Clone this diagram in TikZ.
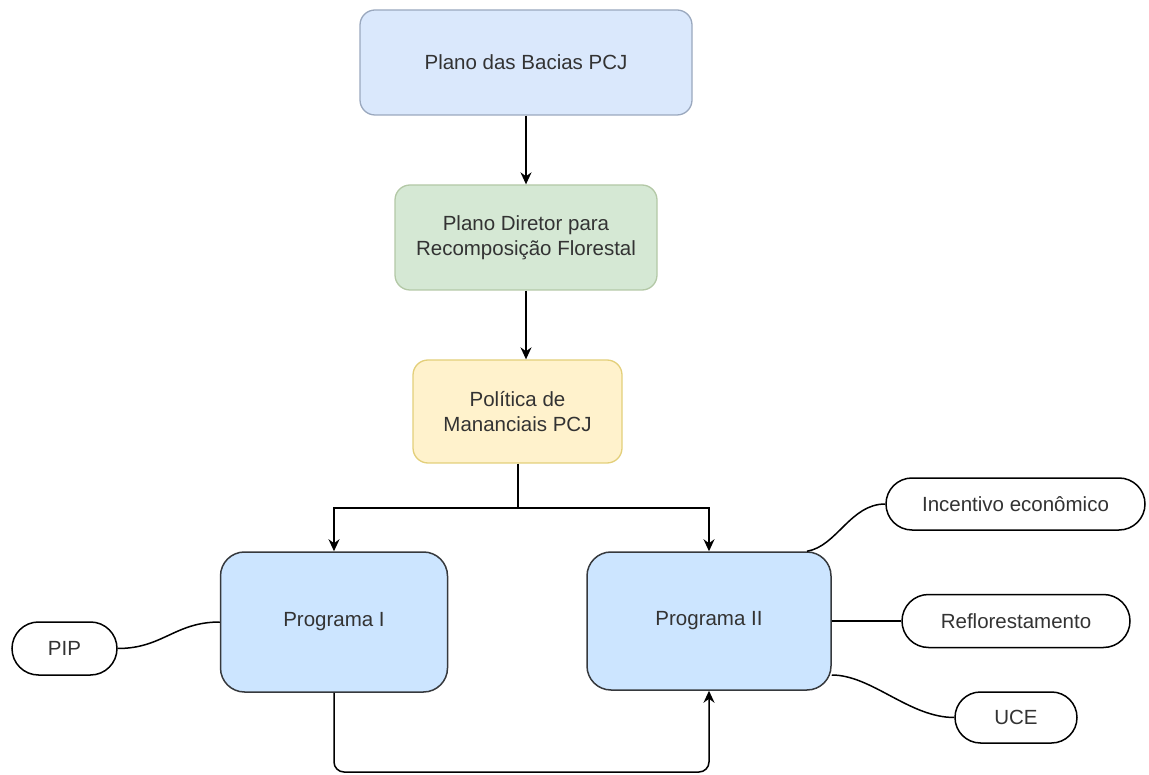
\documentclass[tikz,border=0pt]{standalone}
\usepackage{fontspec}
\setmainfont{Liberation Sans}
\usetikzlibrary{arrows.meta,shapes.misc}
\definecolor{topfill}{HTML}{DAE8FC}
\definecolor{topdraw}{HTML}{9AA8BE}
\definecolor{grnfill}{HTML}{D5E8D4}
\definecolor{grndraw}{HTML}{B3C8A6}
\definecolor{yelfill}{HTML}{FFF2CC}
\definecolor{yeldraw}{HTML}{E3CF7A}
\definecolor{progfill}{HTML}{CCE5FF}
\definecolor{progdraw}{HTML}{36393D}
\definecolor{txt}{HTML}{333333}
\tikzset{
  base/.style={inner sep=0pt, align=center, text=txt, font=\fontsize{20.5}{25}\selectfont},
  pale/.style={base, rectangle, rounded corners=15pt, line width=1.3pt},
  prog/.style={base, rectangle, rounded corners=24pt, fill=progfill, draw=progdraw, line width=1.5pt},
  pill/.style={base, rounded rectangle, fill=white, draw=black, line width=1.5pt},
  arr/.style={line width=1.5pt, -{Stealth[length=12pt,width=11pt]}},
  link/.style={line width=1.5pt}
}
\begin{document}
\begin{tikzpicture}[x=1pt,y=-1pt]
\useasboundingbox (0,0) rectangle (1149,775);
\node[pale, fill=topfill, draw=topdraw, minimum width=332pt, minimum height=105pt] (top) at (526,62.5) {Plano das Bacias PCJ};
\node[pale, fill=grnfill, draw=grndraw, minimum width=262pt, minimum height=105pt] (grn) at (526,237.5) {Plano Diretor para\\Recomposição Florestal};
\node[pale, fill=yelfill, draw=yeldraw, minimum width=209pt, minimum height=103pt] (yel) at (517.5,411.5) {Política de\\Mananciais PCJ};
\node[prog, minimum width=227pt, minimum height=140pt] (p1) at (334,622) {Programa I};
\node[prog, minimum width=244pt, minimum height=138pt] (p2) at (709,621) {Programa II};
\node[pill, minimum width=105pt, minimum height=53pt] (pip) at (64.5,648.5) {PIP};
\node[pill, minimum width=259pt, minimum height=52pt] (inc) at (1015.5,504) {Incentivo econômico};
\node[pill, minimum width=228pt, minimum height=53pt] (refl) at (1016,621) {Reflorestamento};
\node[pill, minimum width=122pt, minimum height=51pt] (uce) at (1016,717.5) {UCE};
\coordinate (split) at (518,508);
\coordinate (bot) at (0,772);
\draw[arr] (top.south) -- (grn.north);
\draw[arr] (grn.south) -- (grn.south |- yel.north);
\draw[link] (split |- yel.south) -- (split);
\draw[arr] (split) -| (p1.north);
\draw[arr] (split) -| (p2.north);
\draw[arr, rounded corners=10pt] (p1.south) -- (p1.south |- bot) -| (p2.south);
\draw[link] (pip.east) .. controls +(45,0) and +(-45,0) .. (p1.west);
\draw[link] ([xshift=98pt]p2.north) .. controls +(30,-5) and +(-35,0) .. (inc.west);
\draw[link] (p2.east) -- (refl.west);
\draw[link] ([yshift=-54pt]p2.east) .. controls +(40,0) and +(-45,0) .. (uce.west);
\end{tikzpicture}
\end{document}
